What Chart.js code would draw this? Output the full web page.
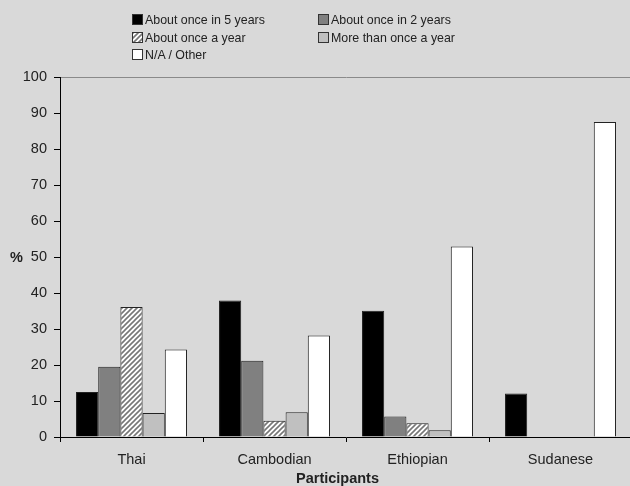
<!DOCTYPE html>
<html>
<head>
<meta charset="utf-8">
<script src="https://cdn.jsdelivr.net/npm/chart.js@4/dist/chart.umd.min.js"></script>
<style>
  body { margin: 0; background: #d9d9d9; overflow: hidden; font-family: "Liberation Sans", Arial, sans-serif; color: #222; }
  #wrap { position: relative; width: 640px; height: 486px; }
  #legend { position: absolute; left: 132px; top: 13px; width: 480px; font-size: 12.4px; }
  .item { position: absolute; white-space: nowrap; line-height: 14px; }
  .box { display: inline-block; width: 9px; height: 9px; border: 1px solid #333; vertical-align: -1px; margin-right: 2px; }
  .lbl { position: absolute; font-size: 14.5px; }
</style>
</head>
<body>
<div id="wrap">
  <canvas id="myChart" width="640" height="486"></canvas>
  <div id="legend"></div>
  <div class="lbl" style="left:10px; top:249px; font-weight:bold;">%</div>
  <div class="lbl" style="left:296px; top:470px; font-weight:bold;">Participants</div>
</div>
<script>
const categories = ['Thai', 'Cambodian', 'Ethiopian', 'Sudanese'];
const seriesNames = ['About once in 5 years', 'About once in 2 years', 'About once a year', 'More than once a year', 'N/A / Other'];
const onceIn5 = [12.5, 37.9, 35.1, 12.1];
const onceIn2 = [19.5, 21.2, 5.7, null];
const onceAYear = [36.1, 4.5, 3.8, null];
const moreThanOnce = [6.7, 6.9, 1.9, null];
const naOther = [24.3, 28.2, 52.9, 87.5];
const yTicks = [0, 10, 20, 30, 40, 50, 60, 70, 80, 90, 100];

// hatch pattern for "About once a year"
const tile = document.createElement('canvas');
tile.width = 5; tile.height = 5;
const tctx = tile.getContext('2d');
tctx.fillStyle = '#fff';
tctx.fillRect(0, 0, 5, 5);
tctx.strokeStyle = '#777';
tctx.lineWidth = 1.6;
tctx.beginPath();
tctx.moveTo(-1, 6); tctx.lineTo(6, -1);
tctx.moveTo(-1, 1); tctx.lineTo(1, -1);
tctx.moveTo(4, 6); tctx.lineTo(6, 4);
tctx.stroke();

const ctx = document.getElementById('myChart').getContext('2d');
const hatch = ctx.createPattern(tile, 'repeat');

const fills = ['#000000', '#808080', hatch, '#c0c0c0', '#ffffff'];
const legendFills = ['#000', '#808080', `url(${tile.toDataURL()})`, '#c0c0c0', '#fff'];
const values = [onceIn5, onceIn2, onceAYear, moreThanOnce, naOther];

// legend in two columns like the original
const legendPos = [[0, 0], [186, 0], [0, 18], [186, 18], [0, 35]];
const legend = document.getElementById('legend');
seriesNames.forEach((name, i) => {
  const el = document.createElement('div');
  el.className = 'item';
  el.style.left = legendPos[i][0] + 'px';
  el.style.top = legendPos[i][1] + 'px';
  el.innerHTML = `<span class="box" style="background:${legendFills[i]}"></span>${name}`;
  legend.appendChild(el);
});

new Chart(ctx, {
  type: 'bar',
  data: {
    labels: categories,
    datasets: seriesNames.map((name, i) => ({
      label: name,
      data: values[i],
      backgroundColor: fills[i],
      borderColor: '#222',
      borderWidth: 1,
      borderSkipped: 'start',
      barPercentage: 1,
      categoryPercentage: 0.776
    }))
  },
  options: {
    responsive: false,
    animation: false,
    layout: { padding: { top: 77, right: 8, left: 0, bottom: 0 } },
    plugins: {
      legend: { display: false },
      tooltip: { enabled: false }
    },
    scales: {
      x: {
        afterFit: (scale) => { scale.height = 49; },
        grid: {
          offset: true,
          drawOnChartArea: false,
          tickColor: '#000',
          tickLength: 5
        },
        border: { color: '#000', width: 1 },
        ticks: {
          color: '#222',
          padding: 9,
          font: { family: 'Liberation Sans', size: 14.5 }
        }
      },
      y: {
        min: 0,
        max: 100,
        afterFit: (scale) => { scale.width = 60; },
        afterBuildTicks: (scale) => { scale.ticks = yTicks.map(v => ({ value: v })); },
        grid: {
          color: (c) => c.tick && c.tick.value === 100 ? '#8a8a8a' : 'transparent',
          tickColor: '#000',
          tickLength: 6
        },
        border: { color: '#000', width: 1 },
        ticks: {
          color: '#222',
          padding: 7,
          font: { family: 'Liberation Sans', size: 14.5 }
        }
      }
    }
  }
});
</script>
</body>
</html>
